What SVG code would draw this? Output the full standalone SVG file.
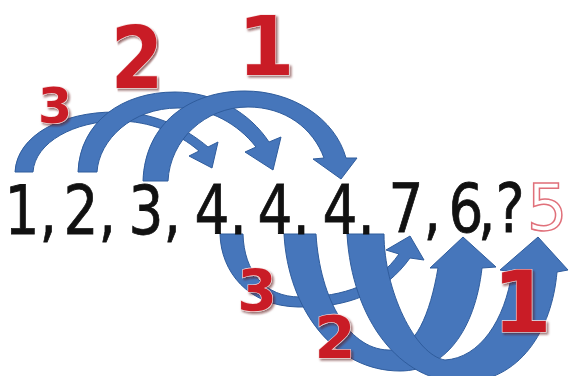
<svg xmlns="http://www.w3.org/2000/svg" width="569" height="376" viewBox="0 0 569 376">
<defs>
<filter id="shadow" x="-20%" y="-20%" width="150%" height="150%">
  <feDropShadow dx="1.8" dy="2" stdDeviation="0.8" flood-color="#5a0c0c" flood-opacity="0.6"/>
</filter>
</defs>
<style>
.arr{fill:#4676bb;stroke:#2f5c9c;stroke-width:1;stroke-linejoin:round}
.num{font-family:"DejaVu Sans",sans-serif;font-size:67px;fill:#111;stroke:#111;stroke-width:0.8}
.lbl{font-family:"DejaVu Sans",sans-serif;font-weight:bold;fill:#c91d26;stroke:#f6dede;stroke-width:1.2;paint-order:stroke;text-anchor:middle;filter:url(#shadow)}
</style>
<rect width="569" height="376" fill="#ffffff"/>
<g id="connectors">
  <path id="arcA" class="arr" d="M15,172 C17,135 62,112 115,112 C152,112 183,126 208,147 L218,142 L212,168 L189,156 L199,151 C178,133 150,121 118,121 C75,121 35,142 33,172 Z"/>
  <path id="arcB" class="arr" d="M78,172 C80,122 122,92 175,92 C215,92 250,113 269,142 L281,137 L273,170 L245,152 L256,147 C238,124 210,108 178,108 C132,108 99,140 97,172 Z"/>
  <path id="arcC" class="arr" d="M143,181 C145,123 190,91 245,91 C292,91 335,118 346,158 L357,158 L341,179 L313,159 L324,158 C313,128 285,107 248,107 C205,107 170,140 168,181 Z"/>
  <path id="arcD" class="arr" d="M220,234 C221,272 248,306 298,307 C348,308 385,293 410,258 L424,260 L410,236 L386,250 L399,254 C378,284 345,297 300,297 C265,297 244,272 243,234 Z"/>
  <path id="arcE" class="arr" d="M284,234 C288,310 335,371 400,371 C445,371 475,330 482,268 L496,267 L463,237 L430,268 L438,268 C430,315 415,349 392,350 C350,352 320,300 316,234 Z"/>
  <path id="arcF" class="arr" d="M347,234 C352,320 400,382 462,382 C520,382 552,330 557,272 L568,270 L538,237 L500,270 L512,272 C505,320 480,358 445,360 C415,355 384,290 384,234 Z"/>
</g>
<g id="sequence" transform="scale(0.82,1)">
  <text class="num" x="5.5" y="234">1,</text>
  <text class="num" x="77.4" y="234">2,</text>
  <text class="num" x="156.7" y="234">3,</text>
  <text class="num" x="237.2" y="234">4.</text>
  <text class="num" x="314" y="234">4.</text>
  <text class="num" x="393.3" y="234">4.</text>
  <text class="num" x="473.8" y="232">7,</text>
  <text class="num" x="547" y="232" textLength="57.3" lengthAdjust="spacing">6,</text>
  <text class="num" x="604.3" y="232">?</text>
</g>
<g id="answer">
  <text x="547" y="230" font-family="DejaVu Sans, sans-serif" font-size="64" fill="#ffffff" stroke="#e0707a" stroke-width="1.5" text-anchor="middle">5</text>
</g>
<g id="label-top-3"><text class="lbl" x="55" y="123" font-size="49">3</text></g>
<g id="label-top-2" transform="translate(137,88) scale(0.88,1)"><text class="lbl" x="0" y="0" font-size="86">2</text></g>
<g id="label-top-1"><text class="lbl" x="266" y="75" font-size="82">1</text></g>
<g id="label-bot-3"><text class="lbl" x="257" y="311" font-size="57">3</text></g>
<g id="label-bot-2"><text class="lbl" x="335" y="358" font-size="59">2</text></g>
<g id="label-bot-1"><text class="lbl" x="522" y="332" font-size="85">1</text></g>
</svg>
